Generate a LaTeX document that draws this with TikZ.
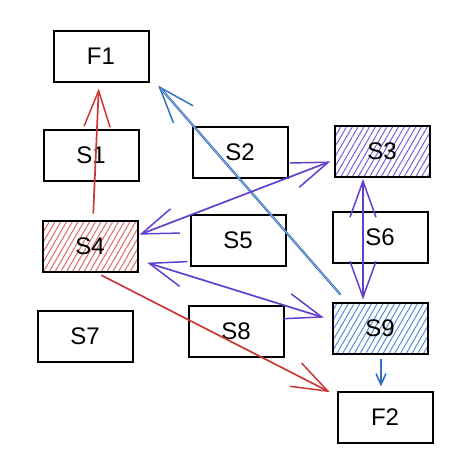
\documentclass[tikz,border=0pt]{standalone}
\usepackage{fontspec}
\setmainfont{Liberation Sans}
\usetikzlibrary{arrows.meta,patterns.meta,calc}
\definecolor{redc}{RGB}{201,55,55}
\definecolor{bluec}{RGB}{52,112,188}
\definecolor{purc}{RGB}{96,64,204}
\definecolor{redh}{RGB}{222,105,105}
\definecolor{purh}{RGB}{118,96,218}
\definecolor{blueh}{RGB}{85,140,210}
\tikzset{
  box/.style={draw=black, line width=2pt, minimum width=95pt, minimum height=51pt,
    inner sep=0pt, font=\fontsize{24}{27}\selectfont},
  hatchred/.style={pattern={Lines[angle=60,distance=5pt,line width=1pt]}, pattern color=redh},
  hatchpur/.style={pattern={Lines[angle=60,distance=5pt,line width=1pt]}, pattern color=purh},
  hatchblue/.style={pattern={Lines[angle=60,distance=5pt,line width=1pt]}, pattern color=blueh},
  barb/.tip={Straight Barb[length=36pt,width=26pt,line width=1.5pt]},
  smallbarb/.tip={Straight Barb[length=11pt,width=10pt,line width=1.6pt]},
  conn/.style={line width=1.7pt, -barb},
  bconn/.style={line width=1.7pt, barb-barb},
}
\begin{document}
\begin{tikzpicture}[x=1pt,y=-1pt]
\useasboundingbox (0,0) rectangle (474,467);
\node[box] (F1) at (101,56) {F1};
\node[box] (S1) at (91,155) {S1};
\node[box] (S2) at (240,152) {S2};
\node[box,hatchpur] (S3) at (382,151) {S3};
\node[box,hatchred] (S4) at (90,246) {S4};
\node[box] (S5) at (238,240) {S5};
\node[box] (S6) at (380,237) {S6};
\node[box] (S7) at (85,336) {S7};
\node[box] (S8) at (236,331) {S8};
\node[box,hatchblue] (S9) at (380,328) {S9};
\node[box] (F2) at (385,417) {F2};
% red arrows
\draw[conn, redc, shorten <=6pt, shorten >=6pt] ([xshift=3pt]S4.north) -- ([xshift=-2pt]F1.south);
\draw[conn, redc, shorten <=6pt, shorten >=3pt] ([xshift=6pt]S4.south) -- ([xshift=-4pt,yshift=-3pt]F2.north west);
% blue arrows
\draw[conn, bluec, line width=2.3pt, shorten <=9pt, shorten >=4pt] ([xshift=15pt]S9.north west) -- ([xshift=6pt]F1.south east);
\draw[white!55!bluec, line width=0.6pt, shorten <=9pt, shorten >=8pt] ([xshift=15pt]S9.north west) -- ([xshift=6pt]F1.south east);
\draw[bluec, line width=1.7pt, -smallbarb, shorten <=4pt, shorten >=4pt] ([xshift=1pt]S9.south) -- ([xshift=1pt]S9.south |- F2.north);
% purple arrows
\draw[bconn, purc, shorten <=1pt, shorten >=4pt] ([yshift=11pt]S4.east) -- ([yshift=-9pt]S3.west);
\draw[bconn, purc, shorten <=9pt, shorten >=8pt] ([yshift=-14pt]S4.east) -- ([yshift=8pt]S9.west);
\draw[bconn, purc, shorten <=2pt, shorten >=2pt] ([xshift=-19pt]S3.south) -- ([xshift=-17pt]S9.north);
\end{tikzpicture}
\end{document}
